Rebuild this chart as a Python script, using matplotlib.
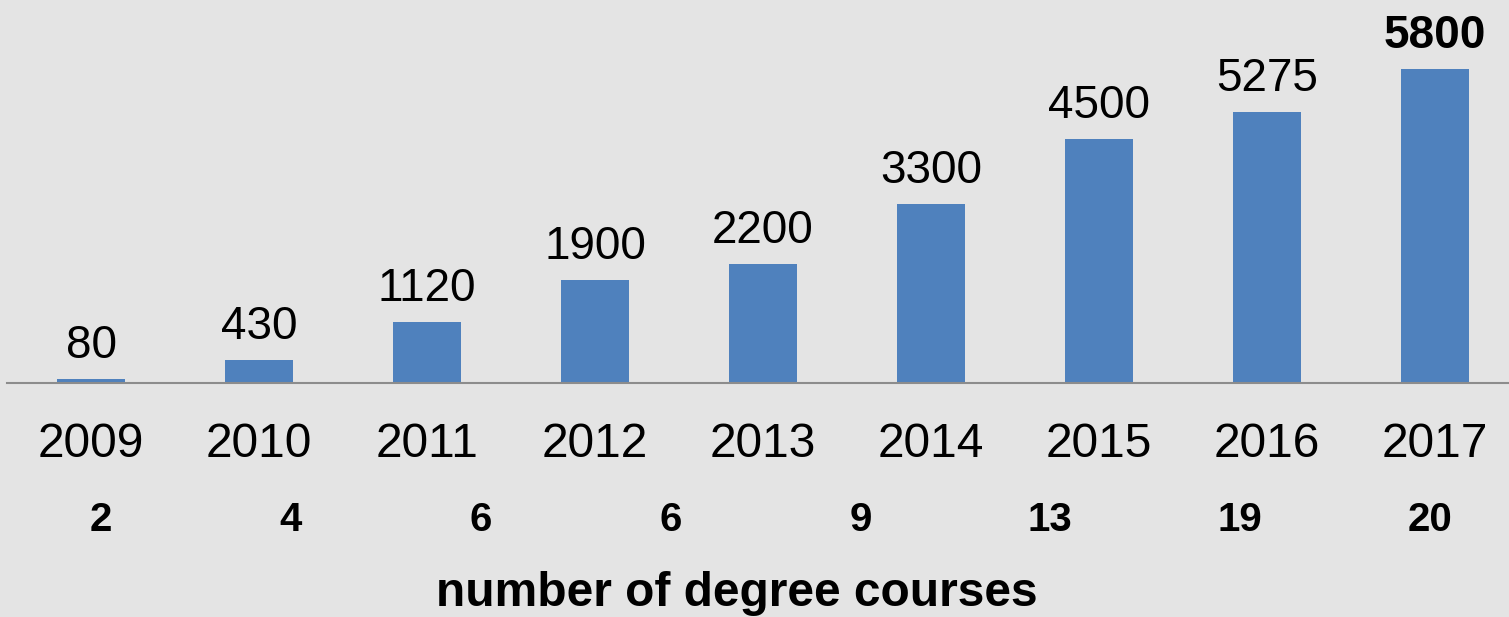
import numpy as np
import matplotlib.pyplot as plt

plt.rcParams['font.family'] = ['Liberation Sans', 'DejaVu Sans']

years = ['2009', '2010', '2011', '2012', '2013', '2014', '2015', '2016', '2017']
# bar heights as drawn in the picture (the 2016 bar is shorter than its label)
heights = [80, 430, 1120, 1900, 2200, 3300, 4500, 5000, 5800]
labels = ['80', '430', '1120', '1900', '2200', '3300', '4500', '5275', '5800']
courses = ['2', '4', '6', '6', '9', '13', '19', '20']

W, H = 1509, 617
bg = '#E4E4E4'
blue = '#4F81BD'

fig = plt.figure(figsize=(W / 100, H / 100), dpi=100, facecolor=bg)
ax = fig.add_axes([7 / W, 1 - 383 / H, 1 - 7 / W, 383 / H])
ax.set_facecolor(bg)

x = np.arange(len(years))
ax.bar(x, heights, width=0.4, color=blue, zorder=2)

for i, (v, lab) in enumerate(zip(heights, labels)):
    last = i == len(heights) - 1
    ax.annotate(lab, (x[i], v), xytext=(0, 8), textcoords='offset points',
                ha='center', va='bottom', fontsize=33,
                fontweight='bold' if last else 'normal')

ax.set_xlim(-0.5, (W - 7) / 168 - 0.5)
ax.set_ylim(0, 383 / (314 / 5800))
ax.set_xticks(x)
ax.set_xticklabels(years, fontsize=34.5)
ax.tick_params(axis='x', length=0, pad=28)
ax.set_yticks([])
for s in ['top', 'right', 'left']:
    ax.spines[s].set_visible(False)
ax.spines['bottom'].set_color('#8C8C8C')
ax.spines['bottom'].set_linewidth(1.5)

# row with the number of degree courses
xs = np.linspace(101, 1430, len(courses)) / W
for xp, c in zip(xs, courses):
    fig.text(xp, 1 - 520 / H, c, ha='center', va='center',
             fontsize=29, fontweight='bold')

fig.text(737 / W, 1 - 594 / H, 'number of degree courses', ha='center',
         va='center', fontsize=34.5, fontweight='bold')

fig.savefig('out.png', dpi=100, facecolor=bg)
